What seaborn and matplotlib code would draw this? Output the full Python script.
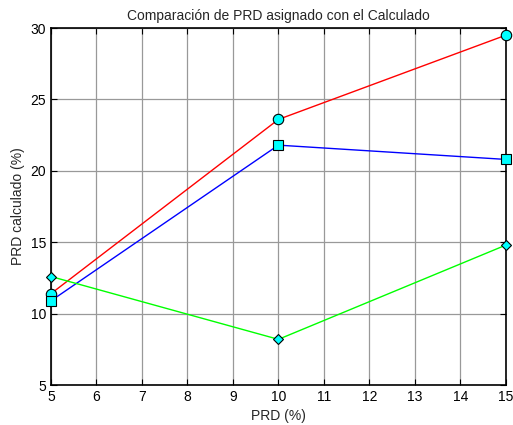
import numpy as np
import pandas as pd
import seaborn as sns
import matplotlib.pyplot as plt

prd_asignado = [5, 10, 15]
serie_roja = [11.4, 23.6, 29.5]
serie_azul = [10.9, 21.8, 20.8]
serie_verde = [12.6, 8.2, 14.8]

x_ticks = list(range(5, 16))
y_ticks = [5, 10, 15, 20, 25, 30]


def main():
    sns.set_style("white")
    plt.rcParams["font.family"] = ["Liberation Sans", "DejaVu Sans"]

    fig = plt.figure(figsize=(5.13, 4.25), dpi=100)
    ax = fig.add_axes([0.0994, 0.094, 0.8866, 0.840])

    series = [
        (serie_roja, "red", "o", 7.5),
        (serie_azul, "blue", "s", 7),
        (serie_verde, "#00FF00", "D", 5.5),
    ]
    for values, color, marker, msize in series:
        df = pd.DataFrame({"x": prd_asignado, "y": values})
        sns.lineplot(
            data=df, x="x", y="y", ax=ax, color=color, linewidth=1,
            marker=marker, markersize=msize, markerfacecolor="#00FFFF",
            markeredgecolor="black", markeredgewidth=0.8, clip_on=False,
            zorder=3,
        )

    ax.set_xlim(5, 15)
    ax.set_ylim(5, 30)
    ax.set_xticks(x_ticks)
    ax.set_yticks(y_ticks)
    ax.grid(True, color="#999999", linewidth=0.9)
    ax.set_axisbelow(True)
    for spine in ax.spines.values():
        spine.set_visible(True)
        spine.set_color("black")
        spine.set_linewidth(1.2)
    ax.tick_params(direction="in", length=4, width=0.8, colors="black",
                   labelsize=10, top=True, right=True, bottom=True, left=True)

    ax.set_xlabel("PRD (%)", fontsize=10)
    ax.set_ylabel("PRD calculado (%)", fontsize=10)
    ax.set_title("Comparación de PRD asignado con el Calculado", fontsize=10)

    fig.savefig("out.png", dpi=100)


if __name__ == "__main__":
    main()
